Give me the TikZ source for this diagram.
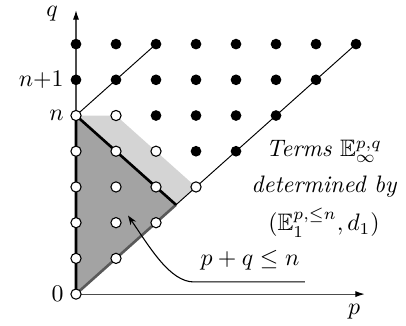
\documentclass[tikz,border=0pt]{standalone}
\usepackage{amssymb}
\usetikzlibrary{arrows.meta,backgrounds}

\tikzset{
  grid dot/.style={circle,fill=black,inner sep=0pt,minimum size=4.5pt},
  grid open/.style={circle,draw=black,fill=white,line width=0.45pt,inner sep=0pt,minimum size=4.3pt},
  axis line/.style={line width=0.5pt,draw=black!70,-{Latex[length=4pt,width=2.6pt,black]}},
  thin diag/.style={line width=0.4pt},
  edge line/.style={line width=1.1pt},
  dark region/.style={fill=black!36},
  light region/.style={fill=black!17},
  pointer/.style={line width=0.45pt,-{Stealth[length=4pt,width=2.8pt]}}
}

\begin{document}
\begin{tikzpicture}[x=16.8pt,y=15pt]
      \useasboundingbox (-1.9,-0.868) rectangle (8.25,8.235);
      % lattice points: open ones are fixed by the first page
      \foreach \q in {0,...,7}
        \foreach \p in {0,...,\q}{
          \pgfmathtruncatemacro{\isopen}{(\q<6)&&(\p+\q<7)}
          \ifnum\isopen=1
            \node[grid open] (g\p\q) at (\p,\q) {};
          \else
            \node[grid dot] (g\p\q) at (\p,\q) {};
          \fi
        }
      \coordinate (apex) at (2.5,2.5);
      \coordinate (qtip) at (0,7.95);
      \coordinate (ptip) at (7.22,0);
      \begin{scope}[on background layer]
        \fill[light region] (g05.center) -- (g15.center) -- (g33.center) -- (apex) -- cycle;
        \fill[dark region] (g00.center) -- (apex) -- (g05.center) -- cycle;
        \draw[axis line] (g00.center) -- (qtip);
        \draw[axis line] (g00.center) -- (ptip);
        \draw[thin diag] (g05.center) -- (g27.center);
        \draw[thin diag] (apex) -- (g77.center);
        \draw[edge line,black!65] (g00.center) -- (apex);
        \draw[edge line] (g00.center) -- (g05.center) -- (apex);
      \end{scope}
      % axis labels
      \node[anchor=east,inner sep=1pt] (lab0) at (-0.24,0) {$0$};
      \node[anchor=east,inner sep=1pt] (labn) at (-0.24,5) {$n$};
      \node[anchor=east,inner sep=1pt] (labn1) at (-0.24,6) {$n{+}1$};
      \node (labq) at (-0.6,7.85) {$q$};
      \node (labp) at (6.95,-0.5) {$p$};
      % explanation
      \node[align=center,font=\itshape] (terms) at (6.2,2.95)
        {Terms $\mathbb{E}_\infty^{p,q}$\\[3pt] determined by\\[4pt] $(\mathbb{E}_1^{p,\leq n},d_1)$};
      \node (bound) at (4.35,0.95) {$p+q\leq n$};
      \coordinate (ulend) at (5.72,0.34);
      \coordinate (ulstart) at (2.95,0.34);
      \coordinate (target) at (1.3,2.2);
      \draw[pointer] (ulend) -- (ulstart) .. controls (2.35,0.34) and (1.85,1.3) .. (target);
    \end{tikzpicture}
\end{document}
